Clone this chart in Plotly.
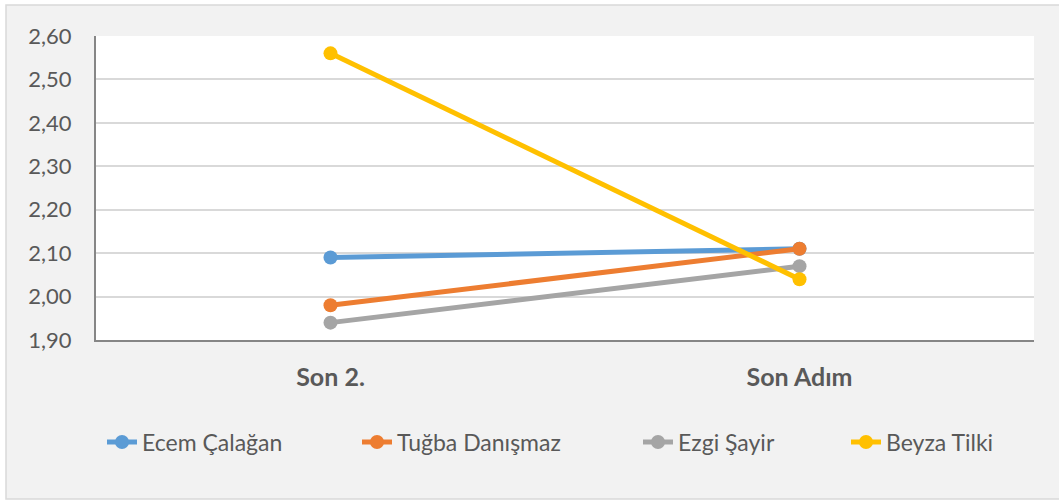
import plotly.graph_objects as go

categories = ["Son 2.", "Son Adım"]
series_names = ["Ecem Çalağan", "Tuğba Danışmaz", "Ezgi Şayir", "Beyza Tilki"]
ecem = [2.09, 2.11]
tugba = [1.98, 2.11]
ezgi = [1.94, 2.07]
beyza = [2.56, 2.04]
colors = ["#5B9BD5", "#ED7D31", "#A5A5A5", "#FFC000"]
y_ticks = [1.9, 2.0, 2.1, 2.2, 2.3, 2.4, 2.5, 2.6]

# plot area in px: x 96..1034, y 36..340
pw, ph = 938, 304
def px_x(v):
    return (v - 96) / pw
def px_y(v):
    return (340 - v) / ph

legend_ids = ["legend", "legend2", "legend3", "legend4"]
legend_text_x = [142, 397, 678, 886]

fig = go.Figure()
for name, vals, col, lid in zip(series_names, [ecem, tugba, ezgi, beyza], colors, legend_ids):
    fig.add_trace(go.Scatter(
        x=categories, y=vals, name=name, mode="lines+markers",
        line=dict(color=col, width=5),
        marker=dict(color=col, size=14),
        legend=lid,
    ))

fig.add_shape(type="rect", xref="paper", yref="paper",
              x0=px_x(6), x1=px_x(1070), y0=px_y(499), y1=px_y(5),
              fillcolor="#F2F2F2", line=dict(color="#D9D9D9", width=1.5),
              layer="below")
fig.add_shape(type="rect", xref="paper", yref="paper",
              x0=0, x1=1, y0=0, y1=1,
              fillcolor="white", line=dict(width=0), layer="below")

legend_font = dict(size=23, color="#595959", family="Lato, sans-serif")
legends = {}
for lid, tx in zip(legend_ids, legend_text_x):
    legends[lid] = dict(orientation="h", x=px_x(tx - 40), xanchor="left",
                        y=px_y(442), yanchor="middle", font=legend_font,
                        bgcolor="rgba(0,0,0,0)")

fig.update_layout(
    width=1059, height=502,
    margin=dict(l=96, r=25, t=36, b=162),
    paper_bgcolor="white", plot_bgcolor="white",
    separators=",.",
    font=dict(family="Lato, sans-serif", color="#595959", size=22),
    showlegend=True,
    xaxis=dict(type="category", range=[-0.5, 1.5], showgrid=False,
               showline=True, linecolor="#868686", linewidth=2,
               ticks="", tickfont=dict(size=25, color="#595959",
                                       family="Lato, sans-serif", weight="bold"),
               ticklabelstandoff=14, fixedrange=True),
    yaxis=dict(range=[1.9, 2.6], tickvals=y_ticks, tickformat=".2f",
               showgrid=True, gridcolor="#D9D9D9", gridwidth=1.5,
               showline=True, linecolor="#868686", linewidth=2,
               zeroline=False, ticks="", ticklabelstandoff=18,
               tickfont=dict(size=22, color="#595959")),
    **legends,
)

fig.write_html("out.html", config={"displayModeBar": False},
               post_script="document.body.style.margin='0';")
